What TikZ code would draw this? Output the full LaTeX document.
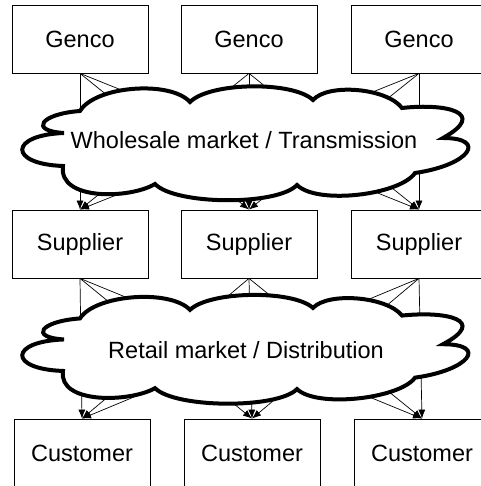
\documentclass[tikz,border=0pt]{standalone}
\usepackage{fontspec}
\setmainfont{Liberation Sans}
\usetikzlibrary{arrows.meta}

\tikzset{
  marketcloud/.pic={
    \draw[line width=4pt, fill=white]
      (-168,32) .. controls +(15,25) and +(-20,22) .. (-58,41)
      .. controls +(20,20) and +(-20,19) .. (65,43)
      .. controls +(15,17) and +(-15,20) .. (154,35)
      .. controls +(45,5) and +(45,25) .. (195,5)
      .. controls +(45,0) and +(55,8) .. (167,-30)
      .. controls +(-15,-22) and +(20,-20) .. (49,-42)
      .. controls +(-20,-21) and +(20,-21) .. (-93,-41)
      .. controls +(-25,-15) and +(-5,-35) .. (-185,-23)
      .. controls +(-55,2) and +(-55,-2) .. (-184,10)
      .. controls +(-35,2) and +(-40,-3) .. (-168,32) -- cycle;
  }
}

\begin{document}
\begin{tikzpicture}[x=1pt, y=1pt, font=\fontsize{23.5}{27}\selectfont,
  box/.style={draw, line width=0.8pt, minimum width=136pt, minimum height=68pt, inner sep=0pt},
  link/.style={line width=0.7pt, -{Latex[length=9pt, width=7pt]}}]
  \useasboundingbox (0,0) rectangle (480,486);

  % generators
  \node[box] (g1) at (80,447) {Genco};
  \node[box] (g2) at (249,447) {Genco};
  \node[box] (g3) at (419,447) {Genco};

  % suppliers
  \node[box] (s1) at (80,242) {Supplier};
  \node[box] (s2) at (249,242) {Supplier};
  \node[box] (s3) at (419,242) {Supplier};

  % customers
  \node[box] (c1) at (82,33) {Customer};
  \node[box] (c2) at (252,33) {Customer};
  \node[box] (c3) at (422,33) {Customer};

  % every box to every box of the next row
  \foreach \a in {1,2,3}
    \foreach \b in {1,2,3} {
      \draw[link] (g\a.south) -- (s\b.north);
      \draw[link] (s\a.south) -- (c\b.north);
    }

  % markets on top of the links
  \pic at (248,343) {marketcloud};
  \node (wm) at (244,346) {Wholesale market / Transmission};

  \pic[yscale=0.955] at (248,137) {marketcloud};
  \node (rm) at (246,136) {Retail market / Distribution};

\end{tikzpicture}
\end{document}
